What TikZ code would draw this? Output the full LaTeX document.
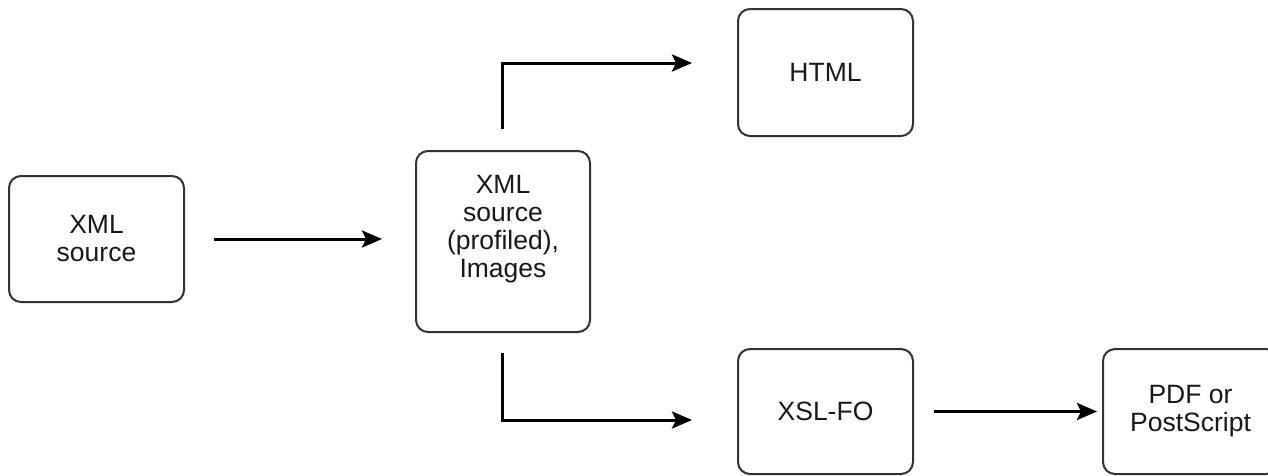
\documentclass[tikz,border=0pt]{standalone}
\usepackage{fontspec}
\setmainfont{Liberation Sans}
\usetikzlibrary{arrows.meta}
\begin{document}
\begin{tikzpicture}[x=1pt,y=-1pt,
  box/.style={draw=black!80, line width=2pt, rounded corners=12pt, fill=white,
    minimum width=175pt, minimum height=126pt, inner sep=0pt, align=center,
    font=\fontsize{26.5}{28}\selectfont, text=black!90},
  arr/.style={line width=3pt, -{Stealth[length=20pt,width=17pt,inset=4pt]}}]
\useasboundingbox (0,0) rectangle (1268,475);
\fill[white] (0,0) rectangle (1268,475);
\node[box] (A) at (96.5,239) {XML\\source};
\node[box, minimum width=174pt, minimum height=181pt] (B) at (503,241.5) {XML\\source\\(profiled),\\Images\\[2pt]};
\node[box, minimum height=127pt] (H) at (825.5,72.5) {HTML};
\node[box, minimum height=125pt] (X) at (825.5,411.5) {XSL-FO};
\node[box, minimum height=125pt] (P) at (1190.5,411.5) {PDF or\\PostScript};
\draw[arr, shorten <=29pt, shorten >=33pt] (A.east) -- (A.east -| B.west);
\draw[arr, shorten <=21pt, shorten >=45pt] ([xshift=-1pt]B.north) |- ([yshift=9.5pt]H.west);
\draw[arr, shorten <=20pt, shorten >=45pt] ([xshift=-1pt]B.south) |- ([yshift=-8.5pt]X.west);
\draw[arr, shorten <=20pt, shorten >=5pt] (X.east) -- (P.west);
\end{tikzpicture}
\end{document}
